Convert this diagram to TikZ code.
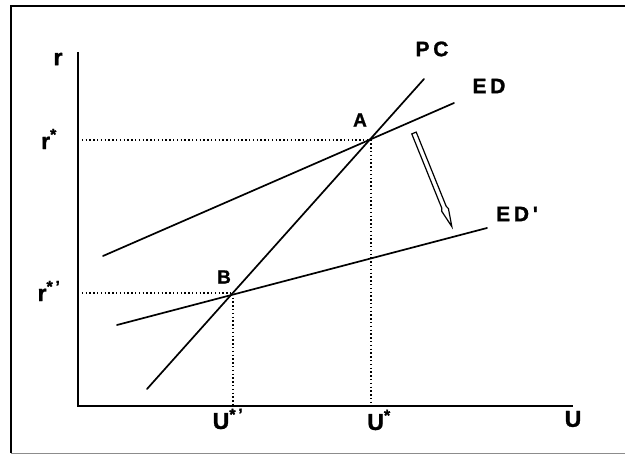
\documentclass[tikz,border=0pt]{standalone}
\usepackage{fontspec}
\setmainfont{Liberation Sans}[BoldFeatures={FakeBold=1.2}]
\newfontfamily\spaced{Liberation Sans}[LetterSpace=18, BoldFeatures={FakeBold=1.2}]
\begin{document}
\begin{tikzpicture}[x=1pt,y=1pt,
  curve/.style={line width=1.7pt, line cap=round},
  axis/.style={line width=2pt},
  guide/.style={line width=1.5pt, dash pattern=on 1.4pt off 2.4pt},
  axlabel/.style={font=\fontsize{23}{23}\selectfont\bfseries, inner sep=0pt},
  crvlabel/.style={font=\fontsize{21}{21}\selectfont\bfseries\spaced, inner sep=0pt},
  ptlabel/.style={font=\fontsize{19}{19}\selectfont\bfseries, inner sep=0pt}]
\useasboundingbox (0,0) rectangle (625,455);
% frame
\draw[line width=2.6pt] (11,2) -- (11,449) -- (625,449);
\draw[line width=0.8pt, black!45] (11,2) -- (625,2);
% axes
\coordinate (O) at (78,49);
\coordinate (ytop) at (78,403);
\coordinate (xend) at (573,49);
\draw[axis] (ytop) -- (O) -- (xend);
% points
\coordinate (A) at (371,315);
\coordinate (B) at (233,162);
\coordinate (Ay) at (78,315);
\coordinate (Ax) at (371,49);
\coordinate (By) at (78,162);
\coordinate (Bx) at (233,49);
% guides
\draw[guide] (Ay) -- (A) -- (Ax);
\draw[guide] (By) -- (B) -- (Bx);
% curves
\coordinate (pc1) at (147,66);
\coordinate (pc2) at (424,376);
\coordinate (ed1) at (103,199);
\coordinate (ed2) at (454,352);
\coordinate (edp1) at (117,130);
\coordinate (edp2) at (487,227);
\draw[curve] (pc1) -- (pc2);
\draw[curve] (ed1) -- (ed2);
\draw[curve] (edp1) -- (edp2);
% hollow shift arrow
\begin{scope}[shift={(414,322)}, rotate=-68]
  \draw[line width=1.2pt, line join=miter] (0,2.4) -- (80,2.4) -- (83,3.6) -- (101,0) -- (83,-3.6) -- (80,-2.4) -- (0,-2.4) -- cycle;
\end{scope}
% labels
\node[axlabel] (lr) at (58,396) {r};
\node[axlabel] (lrs) at (49,316) {r\textsuperscript{*}};
\node[axlabel] (lrsp) at (49,164) {r\textsuperscript{*\,'}};
\node[axlabel] (lU) at (573,36) {U};
\node[axlabel] (lUs) at (379,35) {U\textsuperscript{*}};
\node[axlabel] (lUsp) at (228,36) {U\textsuperscript{*\,'}};
\node[crvlabel] (lpc) at (432,406) {PC};
\node[crvlabel] (led) at (489,369) {ED};
\node[crvlabel] (ledp) at (517,241) {ED'};
\node[ptlabel] (lA) at (360,335) {A};
\node[ptlabel] (lB) at (224,178) {B};
\end{tikzpicture}
\end{document}
